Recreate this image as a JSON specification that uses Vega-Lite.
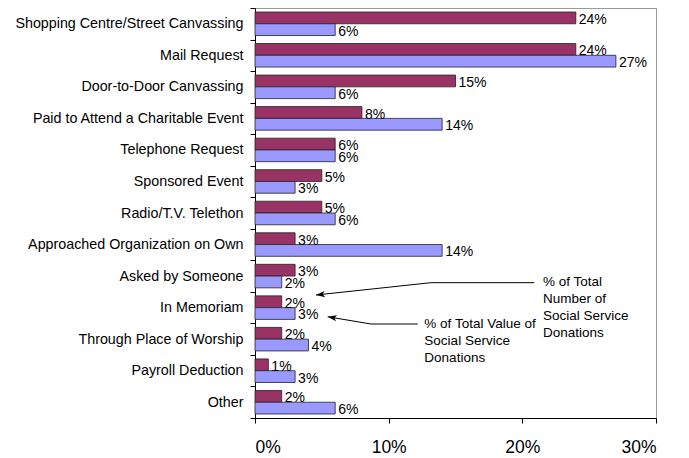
{
  "$schema": "https://vega.github.io/schema/vega-lite/v6.json",
  "width": 401,
  "height": 410,
  "padding": {"left": 14, "top": 1, "right": 5, "bottom": 5},
  "background": "white",
  "config": {
    "font": "Liberation Sans",
    "view": {"stroke": "#999999", "strokeWidth": 1},
    "axis": {"grid": false, "domainColor": "black", "tickColor": "black", "labelColor": "black", "labelFont": "Liberation Sans"}
  },
  "datasets": {
    "bars": [
      {"category": "Shopping Centre/Street Canvassing", "series": "Number", "value": 0.24},
      {"category": "Shopping Centre/Street Canvassing", "series": "Value", "value": 0.06},
      {"category": "Mail Request", "series": "Number", "value": 0.24},
      {"category": "Mail Request", "series": "Value", "value": 0.27},
      {"category": "Door-to-Door Canvassing", "series": "Number", "value": 0.15},
      {"category": "Door-to-Door Canvassing", "series": "Value", "value": 0.06},
      {"category": "Paid to Attend a Charitable Event", "series": "Number", "value": 0.08},
      {"category": "Paid to Attend a Charitable Event", "series": "Value", "value": 0.14},
      {"category": "Telephone Request", "series": "Number", "value": 0.06},
      {"category": "Telephone Request", "series": "Value", "value": 0.06},
      {"category": "Sponsored Event", "series": "Number", "value": 0.05},
      {"category": "Sponsored Event", "series": "Value", "value": 0.03},
      {"category": "Radio/T.V. Telethon", "series": "Number", "value": 0.05},
      {"category": "Radio/T.V. Telethon", "series": "Value", "value": 0.06},
      {"category": "Approached Organization on Own", "series": "Number", "value": 0.03},
      {"category": "Approached Organization on Own", "series": "Value", "value": 0.14},
      {"category": "Asked by Someone", "series": "Number", "value": 0.03},
      {"category": "Asked by Someone", "series": "Value", "value": 0.02},
      {"category": "In Memoriam", "series": "Number", "value": 0.02},
      {"category": "In Memoriam", "series": "Value", "value": 0.03},
      {"category": "Through Place of Worship", "series": "Number", "value": 0.02},
      {"category": "Through Place of Worship", "series": "Value", "value": 0.04},
      {"category": "Payroll Deduction", "series": "Number", "value": 0.01},
      {"category": "Payroll Deduction", "series": "Value", "value": 0.03},
      {"category": "Other", "series": "Number", "value": 0.02},
      {"category": "Other", "series": "Value", "value": 0.06}
    ],
    "lines": [
      {"arrow": "Number", "k": 0, "x": 0.2089, "y": 8.71},
      {"arrow": "Number", "k": 1, "x": 0.1316, "y": 8.71},
      {"arrow": "Number", "k": 2, "x": 0.0456, "y": 9.10},
      {"arrow": "Value", "k": 0, "x": 0.1217, "y": 10.02},
      {"arrow": "Value", "k": 1, "x": 0.0868, "y": 10.02},
      {"arrow": "Value", "k": 2, "x": 0.0544, "y": 9.79}
    ],
    "heads": [
      {"arrow": "Number", "x": 0.0456, "y": 9.10, "angle": 354},
      {"arrow": "Value", "x": 0.0544, "y": 9.79, "angle": 9.6}
    ],
    "notes": [
      {"note": "% of Total\nNumber of\nSocial Service\nDonations", "x": 0.2154, "y": 8.47},
      {"note": "% of Total Value of\nSocial Service\nDonations", "x": 0.1267, "y": 9.80}
    ]
  },
  "layer": [
    {
      "data": {"name": "bars"},
      "encoding": {
        "y": {
          "field": "category", "type": "nominal", "sort": null, "title": null,
          "scale": {"paddingInner": 0, "paddingOuter": 0},
          "axis": {"tickBand": "extent", "tickSize": 5, "labelFontSize": 14.3, "labelPadding": 7, "labelLimit": 400}
        },
        "yOffset": {
          "field": "series", "type": "nominal", "sort": ["Number", "Value"],
          "scale": {"paddingInner": 0, "paddingOuter": 0.34}
        },
        "x": {
          "field": "value", "type": "quantitative", "title": null,
          "scale": {"domain": [0, 0.3], "nice": false},
          "axis": {"values": [0, 0.1, 0.2, 0.3], "format": ".0%", "tickSize": 5, "labelFontSize": 17.5, "labelPadding": 15}
        }
      },
      "layer": [
        {
          "mark": {"type": "bar", "stroke": "#222222", "strokeWidth": 0.8},
          "encoding": {
            "color": {
              "field": "series", "type": "nominal", "legend": null,
              "scale": {"domain": ["Number", "Value"], "range": ["#993366", "#9999FF"]}
            }
          }
        },
        {
          "mark": {"type": "text", "align": "left", "baseline": "middle", "dx": 3, "dy": 2, "fontSize": 14, "color": "black"},
          "encoding": {"text": {"field": "value", "type": "quantitative", "format": ".0%"}}
        }
      ]
    },
    {
      "encoding": {
        "x": {"field": "x", "type": "quantitative", "scale": {"domain": [0, 0.3], "nice": false}},
        "y": {"field": "y", "type": "quantitative", "scale": {"domain": [13, 0], "nice": false, "zero": false}, "axis": null}
      },
      "layer": [
        {
          "data": {"name": "lines"},
          "mark": {"type": "line", "color": "black", "strokeWidth": 1},
          "encoding": {
            "detail": {"field": "arrow", "type": "nominal"},
            "order": {"field": "k", "type": "quantitative"}
          }
        },
        {
          "data": {"name": "heads"},
          "mark": {"type": "point", "shape": "M0,0L2,-0.7L1.5,0L2,0.7Z", "filled": true, "color": "black", "size": 81, "opacity": 1},
          "encoding": {"angle": {"field": "angle", "type": "quantitative", "scale": null}}
        },
        {
          "data": {"name": "notes"},
          "mark": {"type": "text", "align": "left", "baseline": "top", "fontSize": 13.5, "lineHeight": 17, "lineBreak": "\n", "color": "black"},
          "encoding": {"text": {"field": "note", "type": "nominal"}}
        }
      ]
    }
  ],
  "resolve": {"scale": {"y": "independent"}, "axis": {"y": "independent"}}
}
